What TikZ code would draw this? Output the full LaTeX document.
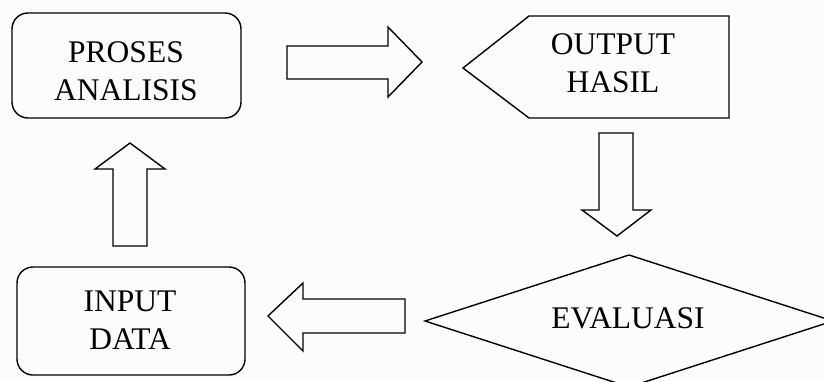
\documentclass[tikz,border=0pt]{standalone}
\usepackage{fontspec}
\setmainfont{Liberation Serif}
\definecolor{bgcol}{RGB}{252,253,250}
\begin{document}
\begin{tikzpicture}[x=1pt,y=-1pt,
  outline/.style={draw=black,line width=1.4pt,line join=miter},
  roundbox/.style={outline,rounded corners=16pt,inner sep=0pt},
  blockarrow/.style={outline,fill=white,fill opacity=0},
  lbl/.style={align=center,inner sep=0pt,font=\fontsize{31.5}{38}\selectfont}]
\useasboundingbox (0,0) rectangle (824,381);
\fill[bgcol] (0,0) rectangle (824,381);
% boxes
\node[roundbox,minimum width=229pt,minimum height=105pt] (proses) at (126.5,65.5) {};
\node[roundbox,minimum width=228pt,minimum height=108pt] (input) at (131,321) {};
% output pentagon
\draw[outline] (463,68) -- (529,16) -- (729,16) -- (729,118) -- (529,118) -- cycle;
% evaluasi diamond
\draw[outline] (629,255) -- (833,321) -- (629,387) -- (425,321) -- cycle;
% texts
\node[lbl] (prosesT) at (126,71) {PROSES\\ANALISIS};
\node[lbl] (outputT) at (613,63) {OUTPUT\\HASIL};
\node[lbl] (inputT) at (130,320) {INPUT\\DATA};
\node[lbl] (evalT) at (628,318) {EVALUASI};
% block arrows
\draw[outline] (287,46) -- (388,46) -- (388,27) -- (422,62) -- (388,97) -- (388,79) -- (287,79) -- cycle;
\draw[outline] (599,133) -- (633,133) -- (633,210) -- (651,210) -- (617,236) -- (582,210) -- (599,210) -- cycle;
\draw[outline] (405,299) -- (303,299) -- (303,283) -- (268,316) -- (303,351) -- (303,333) -- (405,333) -- cycle;
\draw[outline] (113,246) -- (113,169) -- (95,169) -- (130,143) -- (165,169) -- (147,169) -- (147,246) -- cycle;
\end{tikzpicture}
\end{document}
